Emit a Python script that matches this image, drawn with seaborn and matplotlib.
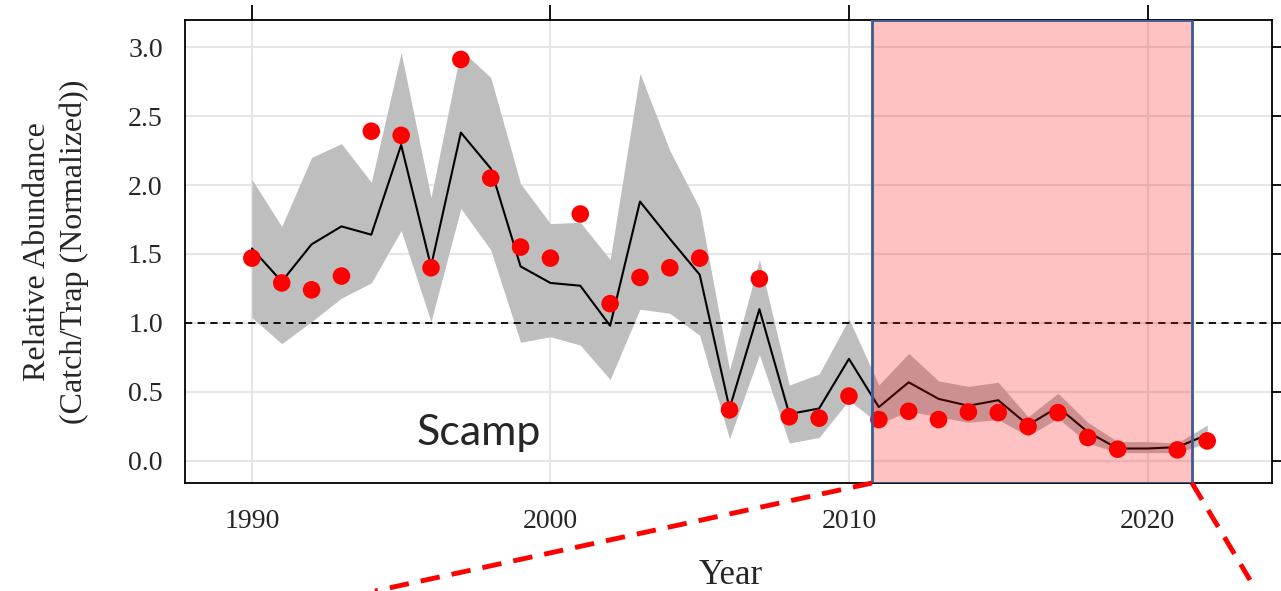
import numpy as np
import pandas as pd
import matplotlib
matplotlib.use("Agg")
import matplotlib.pyplot as plt
import seaborn as sns
from matplotlib.patches import Rectangle
from matplotlib.lines import Line2D

# values
years = list(range(1990, 2023))
mean_index = [1.54, 1.30, 1.57, 1.70, 1.64, 2.29, 1.41, 2.38, 2.12, 1.41,
              1.29, 1.27, 0.98, 1.88, 1.61, 1.35, 0.38, 1.10, 0.34, 0.38,
              0.74, 0.39, 0.57, 0.45, 0.40, 0.44, 0.26, 0.39, 0.21, 0.09,
              0.09, 0.10, 0.19]
upper_ci = [2.04, 1.70, 2.20, 2.30, 2.02, 2.96, 1.91, 2.98, 2.78, 2.01,
            1.72, 1.73, 1.46, 2.81, 2.25, 1.83, 0.66, 1.46, 0.55, 0.63,
            1.03, 0.55, 0.78, 0.58, 0.54, 0.57, 0.32, 0.49, 0.28, 0.14,
            0.14, 0.13, 0.26]
lower_ci = [1.04, 0.85, 1.01, 1.18, 1.29, 1.67, 1.01, 1.83, 1.53, 0.86,
            0.90, 0.84, 0.59, 1.10, 1.07, 0.91, 0.16, 0.77, 0.13, 0.17,
            0.44, 0.27, 0.36, 0.32, 0.28, 0.30, 0.18, 0.31, 0.13, 0.06,
            0.06, 0.06, 0.13]
nominal = [1.47, 1.29, 1.24, 1.34, 2.39, 2.36, 1.40, 2.91, 2.05, 1.55,
           1.47, 1.79, 1.14, 1.33, 1.40, 1.47, 0.37, 1.32, 0.32, 0.31,
           0.47, 0.30, 0.36, 0.30, 0.355, 0.35, 0.25, 0.35, 0.17, 0.085,
           np.nan, 0.08, 0.145]

y_ticks = [0.0, 0.5, 1.0, 1.5, 2.0, 2.5, 3.0]
x_ticks = [1990, 2000, 2010, 2020]
zoom_years = (2010.77, 2021.49)   # highlighted period

df = pd.DataFrame({'year': years, 'mean': mean_index, 'lo': lower_ci,
                   'hi': upper_ci, 'nominal': nominal})

sns.set_style("white")
plt.rcParams['font.family'] = ['Liberation Serif', 'DejaVu Serif']

fig = plt.figure(figsize=(12.81, 5.91), dpi=100)
ax = fig.add_axes([185 / 1281, 1 - 483 / 591, (1272 - 185) / 1281, (483 - 20) / 591])

ax.set_xlim(1987.76, 2024.17)
ax.set_ylim(-0.16, 3.196)

# grid like lattice
for v in y_ticks:
    ax.axhline(v, color='#e6e6e6', lw=1.5, zorder=0)
for v in x_ticks:
    ax.axvline(v, color='#e6e6e6', lw=1.5, zorder=0)

ax.fill_between(df['year'], df['lo'], df['hi'], color='#bebebe', lw=0, zorder=1)
sns.lineplot(data=df, x='year', y='mean', color='black', lw=1.5, ax=ax, zorder=2)
ax.axhline(1.0, color='black', ls=(0, (4, 3)), lw=1.3, zorder=2)
sns.scatterplot(data=df, x='year', y='nominal', color='red', s=160,
                edgecolor='none', ax=ax, zorder=3)

# highlighted box
y0, y1 = ax.get_ylim()
rect = Rectangle((zoom_years[0], y0), zoom_years[1] - zoom_years[0], y1 - y0,
                 facecolor=(1, 0, 0, 0.24), edgecolor='#3c5a96', lw=2, zorder=4)
ax.add_patch(rect)

ax.text(1997.6, 0.2, "Scamp", family=['Lato', 'DejaVu Sans'], fontsize=31,
        ha='center', va='center')

ax.set_xticks(x_ticks)
ax.set_yticks(y_ticks)
ax.set_yticklabels([f"{v:.1f}" for v in y_ticks])
ax.tick_params(axis='both', which='both', direction='out', length=11, width=1.3,
               labelsize=20, top=True, right=True, labeltop=False, labelright=False,
               color='black')
ax.tick_params(axis='y', pad=5)
ax.tick_params(axis='x', pad=8)
for s in ax.spines.values():
    s.set_color('black')
    s.set_linewidth(1.3)

ax.set_xlabel("Year", fontsize=25)
ax.xaxis.set_label_coords(0.502, -0.165)
ax.set_ylabel("Relative Abundance\n(Catch/Trap (Normalized))", fontsize=23,
              linespacing=1.35)
ax.yaxis.set_label_coords(-0.088, 0.5)

# red dashed lines leading away from the box corners
to_fig = fig.transFigure.inverted()
bl = to_fig.transform(ax.transData.transform((zoom_years[0], y0)))
br = to_fig.transform(ax.transData.transform((zoom_years[1], y0)))
fig.add_artist(Line2D([bl[0], 375 / 1281], [bl[1], 0.0], color='red', lw=3.5,
                      ls=(0, (4, 2.5))))
fig.add_artist(Line2D([br[0], 1250 / 1281], [br[1], 1 - 580 / 591], color='red',
                      lw=3.5, ls=(0, (4, 2.5))))

fig.savefig("out.png", dpi=100)
